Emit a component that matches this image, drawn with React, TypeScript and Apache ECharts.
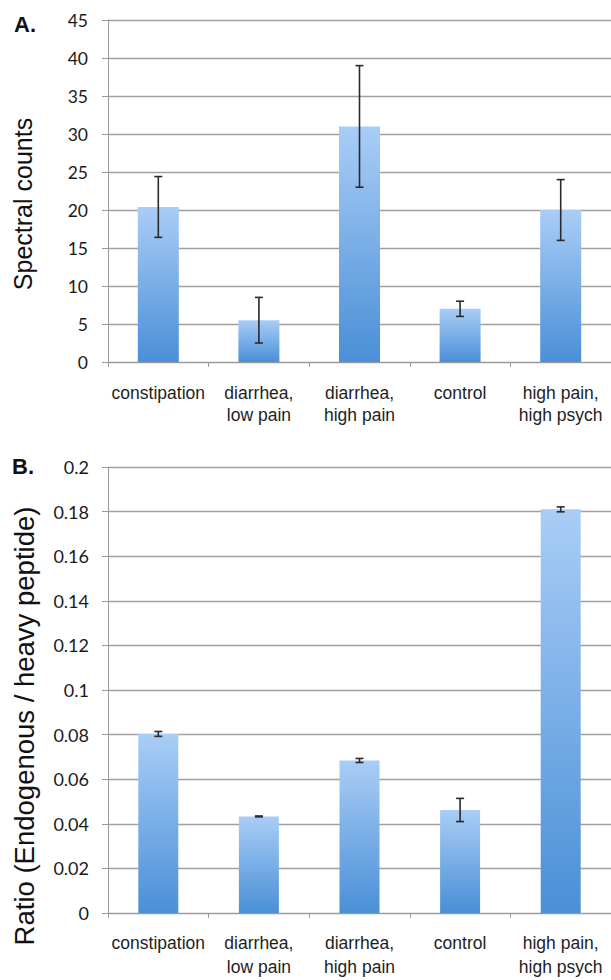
import React, { useEffect, useRef } from "react";
import * as echarts from "echarts";

const categories = [
  "constipation",
  "diarrhea,\nlow pain",
  "diarrhea,\nhigh pain",
  "control",
  "high pain,\nhigh psych",
];
const countsMean = [20.4, 5.5, 31, 7, 20];
const countsErr = [4, 3, 8, 1, 4];
const ratioMean = [0.0803, 0.0433, 0.0684, 0.0462, 0.181];
const ratioErr = [0.0011, 0.0002, 0.0009, 0.0052, 0.0011];
const countsTicks = { min: 0, max: 45, interval: 5 };
const ratioTicks = { min: 0, max: 0.2, interval: 0.02 };

const barGradient = () =>
  new echarts.graphic.LinearGradient(0, 0, 0, 1, [
    { offset: 0, color: "#a9cdf6" },
    { offset: 1, color: "#4a8fd7" },
  ]);

const errorRender = (params: any, api: any) => {
  const x = api.value(0);
  const lo = api.coord([x, api.value(1)]);
  const hi = api.coord([x, api.value(2)]);
  const h = 4;
  const style = { stroke: "#2a2a2a", lineWidth: 1.6 };
  return {
    type: "group",
    children: [
      { type: "line", shape: { x1: lo[0], y1: lo[1], x2: hi[0], y2: hi[1] }, style },
      { type: "line", shape: { x1: hi[0] - h, y1: hi[1], x2: hi[0] + h, y2: hi[1] }, style },
      { type: "line", shape: { x1: lo[0] - h, y1: lo[1], x2: lo[0] + h, y2: lo[1] }, style },
    ],
  };
};

export default function App() {
  const ref = useRef<HTMLDivElement>(null);
  useEffect(() => {
    if (!ref.current) return;
    const chart = echarts.init(ref.current, undefined, { renderer: "svg" });
    const catFont = "'Liberation Sans', Arial, sans-serif";
    const numFont = "Lato, 'Open Sans', sans-serif";
    const xAxisCommon = (gridIndex: number, margin: number, lh: number) => ({
      type: "category",
      gridIndex,
      data: categories,
      axisLine: { lineStyle: { color: "#9a9a9a", width: 1 } },
      axisTick: { show: true, length: 5, lineStyle: { color: "#9a9a9a" } },
      axisLabel: {
        interval: 0,
        margin,
        fontFamily: catFont,
        fontSize: 17.5,
        lineHeight: lh,
        color: "#1e1e1e",
      },
    });
    const yAxisCommon = (gridIndex: number, t: any, fontSize: number, margin: number) => ({
      type: "value",
      gridIndex,
      min: t.min,
      max: t.max,
      interval: t.interval,
      axisLine: { show: true, lineStyle: { color: "#9a9a9a", width: 1 } },
      axisTick: { show: true, length: 6, lineStyle: { color: "#9a9a9a" } },
      splitLine: { lineStyle: { color: "#a0a0a0", width: 1.3 } },
      axisLabel: { margin, fontFamily: numFont, fontSize, color: "#1a1a1a" },
    });
    chart.setOption({
      animation: false,
      backgroundColor: "#ffffff",
      grid: [
        { left: 108, width: 505, top: 20, height: 342 },
        { left: 108, width: 505, top: 467, height: 446 },
      ],
      xAxis: [xAxisCommon(0, 20, 22), xAxisCommon(1, 18, 24)],
      yAxis: [yAxisCommon(0, countsTicks, 17.5, 20), yAxisCommon(1, ratioTicks, 18, 19)],
      series: [
        {
          type: "bar",
          xAxisIndex: 0,
          yAxisIndex: 0,
          data: countsMean,
          barWidth: 41,
          itemStyle: { color: barGradient() },
        },
        {
          type: "custom",
          xAxisIndex: 0,
          yAxisIndex: 0,
          data: countsMean.map((m, i) => [i, m - countsErr[i], m + countsErr[i]]),
          encode: { x: 0, y: [1, 2] },
          renderItem: errorRender,
          z: 5,
        },
        {
          type: "bar",
          xAxisIndex: 1,
          yAxisIndex: 1,
          data: ratioMean,
          barWidth: 40,
          itemStyle: { color: barGradient() },
        },
        {
          type: "custom",
          xAxisIndex: 1,
          yAxisIndex: 1,
          data: ratioMean.map((m, i) => [i, m - ratioErr[i], m + ratioErr[i]]),
          encode: { x: 0, y: [1, 2] },
          renderItem: errorRender,
          z: 5,
        },
      ],
      graphic: [
        {
          type: "text",
          left: 14,
          top: 13,
          style: { text: "A.", font: "bold 22px 'Liberation Sans', Arial, sans-serif", fill: "#111" },
        },
        {
          type: "text",
          left: 12,
          top: 455,
          style: { text: "B.", font: "bold 22px 'Liberation Sans', Arial, sans-serif", fill: "#111" },
        },
        {
          type: "text",
          x: 23,
          y: 204,
          rotation: Math.PI / 2,
          style: {
            text: "Spectral counts",
            font: "25px 'Liberation Sans', Arial, sans-serif",
            fill: "#111",
            align: "center",
            verticalAlign: "middle",
            textAlign: "center",
            textVerticalAlign: "middle",
          },
        },
        {
          type: "text",
          x: 24,
          y: 726,
          rotation: Math.PI / 2,
          style: {
            text: "Ratio (Endogenous / heavy peptide)",
            font: "27.5px 'Liberation Sans', Arial, sans-serif",
            fill: "#111",
            align: "center",
            verticalAlign: "middle",
            textAlign: "center",
            textVerticalAlign: "middle",
          },
        },
      ],
    });
    return () => chart.dispose();
  }, []);
  return (
    <div
      ref={ref}
      style={{ position: "fixed", left: 0, top: 0, width: 611, height: 980, background: "#fff" }}
    />
  );
}
